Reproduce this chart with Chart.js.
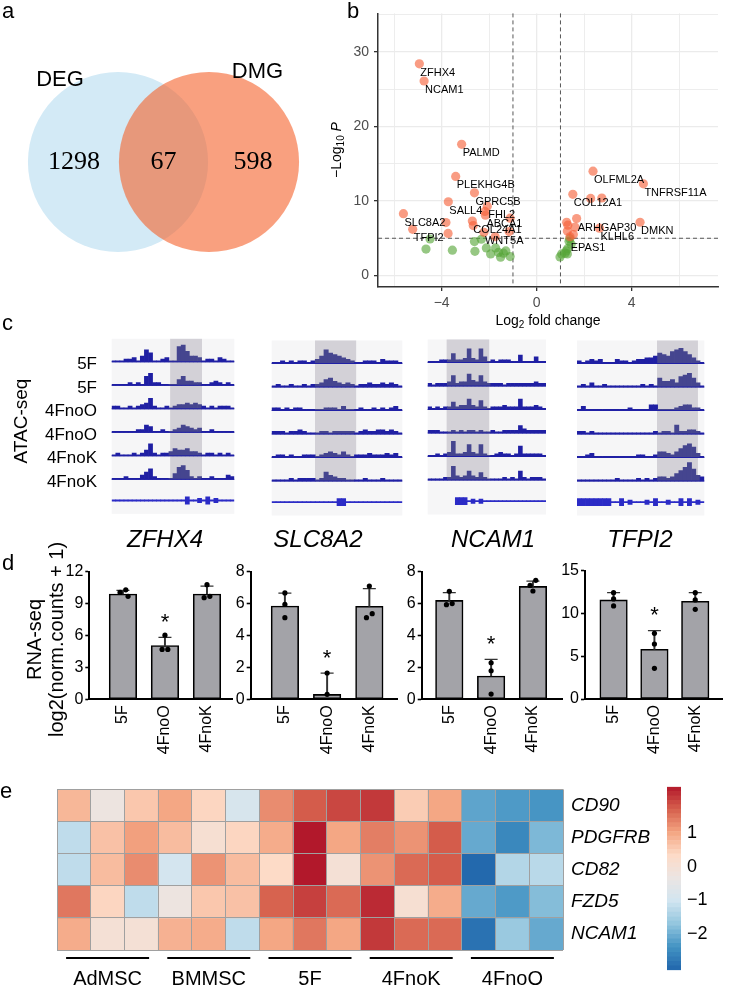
<!DOCTYPE html>
<html>
<head>
<meta charset="utf-8">
<script src="https://cdn.jsdelivr.net/npm/chart.js@4.4.1/dist/chart.umd.min.js"></script>
<style>
  body { margin: 0; background: #fff; width: 730px; height: 987px; position: relative; overflow: hidden; }
  canvas { position: absolute; }
</style>
</head>
<body>
<script>
// ---------- a: Venn ----------
const vennSets = ['DEG', 'DMG'];
const vennCounts = [1298, 67, 598];   // DEG only, shared, DMG only

// ---------- b: volcano ----------
const sigFC = [-4.94, -4.74, -3.16, -3.41, -2.62, -3.72, -2.08, -2.18, -2.16, -5.61, -3.82, -2.71, -2.67, -1.12, -5.22, -3.73, -1.16, -1.75, -2.22,
  2.37, 4.49, 1.52, 2.27, 2.74, 4.35, 1.68, 1.26, 1.31, 1.61, 1.29, 1.54, 2.64, 1.40];
const sigP = [28.4, 26.1, 17.6, 13.3, 11.1, 9.9, 9.3, 8.6, 8.1, 8.3, 7.1, 7.3, 6.7, 7.7, 6.2, 5.65, 5.9, 5.2, 5.8,
  14.0, 12.3, 10.9, 10.35, 10.4, 7.15, 7.65, 7.15, 6.75, 6.5, 5.96, 5.5, 6.35, 5.2];
const sigGene = ['ZFHX4', 'NCAM1', 'PALMD', 'PLEKHG4B', 'GPRC5B', 'SALL4', 'FHL2', '', 'ABCA1', 'SLC8A2', '', 'COL24A1', '', '', 'TFPI2', '', '', '', 'WNT5A',
  'OLFML2A', 'TNFRSF11A', 'COL12A1', '', '', 'DMKN', 'ARHGAP30', '', '', '', '', '', 'KLHL6', ''];
const nsFC = [-4.66, -4.49, -3.55, -2.60, -2.62, -2.33, -2.12, -1.73, -1.61, -1.40, -1.52, -1.12, -1.94, -1.30,
  1.39, 1.36, 1.24, 1.29, 0.98, 1.05, 1.30, 1.45, 1.20];
const nsP = [3.55, 4.9, 3.4, 3.25, 4.56, 4.87, 3.7, 3.7, 3.1, 3.0, 2.46, 2.54, 2.9, 3.3,
  4.95, 4.6, 3.3, 2.9, 2.5, 2.9, 3.6, 4.2, 3.0];
const nsGene = ['', '', '', '', '', '', '', '', '', '', '', '', '', '', 'EPAS1', '', '', '', '', '', '', '', ''];
const fcCut = 1, pCut = 5;

// ---------- c: ATAC-seq tracks (30 bins per locus) ----------
const atacSamples = ['5F', '5F', '4FnoO', '4FnoO', '4FnoK', '4FnoK'];
const atacZFHX4 = [
  [1,1,1,2,2,3,1,4,8,6,1,1,2,3,1,1,10,11,7,4,4,3,1,2,2,1,3,2,1,1],
  [1,1,1,1,2,1,2,1,6,8,2,2,1,1,1,1,4,6,3,3,2,2,1,1,2,3,2,1,2,1],
  [2,2,1,1,2,1,2,3,4,7,2,1,1,2,1,2,3,3,4,3,4,3,2,1,2,1,2,2,2,1],
  [1,1,1,1,1,1,2,2,5,4,1,1,2,1,1,2,3,5,4,3,2,3,1,1,2,1,1,1,1,1],
  [1,2,1,1,1,2,1,2,4,8,2,1,2,2,3,5,4,4,5,3,3,2,1,2,2,1,2,1,2,1],
  [1,1,1,2,1,1,1,3,5,7,2,1,1,1,1,4,8,9,6,2,1,2,1,1,2,1,1,1,3,2]
];
const atacSLC8A2 = [
  [1,1,2,1,2,1,2,2,1,2,3,5,9,7,6,5,4,3,2,1,1,2,2,2,1,3,2,2,2,1],
  [1,2,1,1,2,1,1,2,1,2,2,3,5,6,4,3,2,3,2,1,2,2,3,2,2,3,2,3,2,1],
  [2,2,1,2,1,2,2,1,1,1,1,1,2,2,2,1,3,1,1,1,2,1,1,2,1,2,1,2,3,1],
  [2,2,2,1,2,2,3,2,1,1,1,2,2,1,2,2,2,2,2,1,2,3,2,2,3,3,2,3,2,1],
  [1,2,2,1,2,1,1,2,2,2,1,2,3,4,3,2,4,2,1,2,2,2,3,2,2,2,3,2,3,1],
  [1,1,1,1,2,1,2,2,2,2,1,2,6,4,3,2,2,1,1,1,1,2,1,1,1,2,1,1,1,1]
];
const atacNCAM1 = [
  [1,1,1,2,2,2,6,2,2,3,9,3,2,9,4,1,2,1,2,2,2,1,1,5,1,1,1,4,1,1],
  [2,1,2,2,2,3,7,2,3,3,8,4,3,7,3,2,2,2,2,1,2,2,2,2,2,2,2,3,2,2],
  [2,1,2,1,2,2,5,2,3,3,7,3,2,6,2,1,2,2,2,3,2,2,2,7,2,2,2,3,2,1],
  [2,2,2,1,1,1,2,1,2,1,2,2,1,2,1,1,2,1,1,2,2,2,2,5,3,2,2,2,2,2],
  [1,1,2,1,2,3,10,2,2,3,8,3,2,8,2,1,1,2,3,2,2,1,2,7,2,2,2,2,2,1],
  [1,1,1,1,2,2,9,3,2,3,6,3,2,5,2,1,1,1,1,2,1,2,1,6,2,1,2,2,2,1]
];
const atacTFPI2 = [
  [2,1,2,3,2,3,1,1,1,3,2,2,1,2,3,3,4,4,5,7,6,5,8,9,10,8,6,4,2,1],
  [1,2,1,3,1,1,2,1,1,1,1,1,1,1,1,2,1,2,1,6,4,4,5,3,7,8,9,6,3,1],
  [1,3,1,1,1,1,1,1,1,1,1,1,2,1,1,1,1,4,4,1,1,1,1,2,3,4,4,2,2,1],
  [2,2,1,2,1,1,1,1,1,1,1,1,1,1,1,1,1,1,2,1,2,2,1,6,2,2,3,3,2,1],
  [1,1,2,3,1,1,1,1,1,1,1,1,1,1,2,2,1,1,2,4,4,3,2,4,6,8,9,7,3,1],
  [1,1,1,1,1,1,1,1,1,2,1,1,1,1,2,1,2,1,2,3,3,2,3,5,7,9,12,8,4,3]
];
// gene models per bin: 0 none, 1 intron, 2 UTR, 3 coding exon
const modelZFHX4 = [1,1,1,1,1,1,1,1,1,1,1,1,1,1,1,1,1,1,3,1,1,2,1,3,1,2,1,1,1,1];
const modelSLC8A2 = [1,1,1,1,1,1,1,1,1,1,1,1,1,1,1,3,3,1,1,1,1,1,1,1,1,1,1,1,1,1];
const modelNCAM1 = [0,0,0,0,0,0,0,3,3,3,1,2,1,2,1,1,1,1,1,1,1,1,1,1,1,1,1,1,1,1];
const modelTFPI2 = [3,3,3,3,3,3,3,3,1,1,3,1,2,1,1,1,2,1,3,1,1,2,1,1,3,1,3,1,2,1];
// highlighted regions, in bins
const hlZFHX4 = [14.3, 22.1], hlSLC8A2 = [9.95, 19.4], hlNCAM1 = [4.8, 15.6], hlTFPI2 = [18.85, 28.5];

// ---------- d: RNA-seq ----------
const rnaGroups = ['5F', '4FnoO', '4FnoK'];
const zfhx4Mean = [9.9, 5.05, 9.9], zfhx4Sd = [0.35, 0.78, 0.75];
const zfhx4Reps = [[10.3, 10.05, 9.68], [6.03, 4.69, 4.69], [10.78, 9.56, 9.68]];
const slc8a2Mean = [5.85, 0.31, 5.83], slc8a2Sd = [0.81, 1.33, 1.11];
const slc8a2Reps = [[6.67, 5.95, 5.12], [1.65, 0.31], [7.1, 5.37, 5.12]];
const ncam1Mean = [6.2, 1.46, 7.08], ncam1Sd = [0.49, 1.04, 0.33];
const ncam1Reps = [[6.77, 5.93, 6.0], [2.29, 1.79, 0.33], [7.46, 7.14, 6.79]];
const tfpi2Mean = [11.58, 5.81, 11.42], tfpi2Sd = [0.85, 2.18, 1.01];
const tfpi2Reps = [[12.43, 11.7, 10.88], [7.68, 6.43, 3.59], [12.43, 11.58, 10.49]];
const sigGroups = [1];

// ---------- e: heatmap ----------
const heatGroups = ['AdMSC', 'BMMSC', '5F', '4FnoK', '4FnoO'];
const heatCols = ['AdMSC-1', 'AdMSC-2', 'AdMSC-3', 'BMMSC-1', 'BMMSC-2', 'BMMSC-3', '5F-1', '5F-2', '5F-3',
  '4FnoK-1', '4FnoK-2', '4FnoK-3', '4FnoO-1', '4FnoO-2', '4FnoO-3'];
const heatGenes = ['CD90', 'PDGFRB', 'CD82', 'FZD5', 'NCAM1'];
const cd90 = [0.5, -0.3, 0.35, 0.65, 0.2, -0.75, 0.85, 1.2, 1.35, 1.45, 0.3, 0.65, -1.7, -1.8, -1.85];
const pdgfrb = [-1.0, 0.4, 0.7, 0.45, -0.05, 0.2, 0.6, 1.68, 0.65, 0.95, 0.8, 1.2, -1.65, -2.0, -1.5];
const cd82 = [-1.0, 0.45, 0.85, -0.8, 0.8, 0.45, 0.15, 1.68, -0.1, 0.8, 1.1, 1.2, -2.35, -1.1, -1.05];
const fzd5 = [1.0, 0.2, -1.0, -0.3, 0.35, 0.4, 1.15, 1.4, 1.1, 1.55, -0.05, 0.6, -1.65, -1.8, -1.45];
const ncam1Heat = [0.6, -0.1, -0.1, 0.55, 0.6, -1.0, 0.65, 1.0, 0.65, 1.45, 1.1, 1.1, -2.25, -1.3, -1.65];
const heatMin = -2.38, heatMax = 1.68;
const heatPalette = ['#2166ac', '#4393c3', '#92c5de', '#d1e5f0', '#ebe5e3', '#fddbc7', '#f4a582', '#d6604d', '#b2182b'];

// ================= helpers =================
const SANS = "'Liberation Sans', Arial, sans-serif";
const SERIF = "'Liberation Serif', 'Times New Roman', serif";
Chart.defaults.font.family = SANS;
Chart.defaults.color = '#000';

const base = {
  responsive: false, animation: false, devicePixelRatio: 1, events: [],
  plugins: { legend: { display: false }, tooltip: { enabled: false } }
};

function makeCanvas(left, top, w, h) {
  const c = document.createElement('canvas');
  c.width = w; c.height = h;
  Object.assign(c.style, { left: left + 'px', top: top + 'px', width: w + 'px', height: h + 'px' });
  document.body.appendChild(c);
  return c;
}

function put(ctx, s, x, y, size, o = {}) {
  ctx.save();
  ctx.font = (o.style || '') + ' ' + size + 'px ' + (o.family || SANS);
  ctx.fillStyle = o.color || '#000';
  ctx.textAlign = o.align || 'left';
  ctx.textBaseline = o.base || 'alphabetic';
  ctx.translate(x, y);
  if (o.rot) ctx.rotate(o.rot);
  ctx.fillText(s, 0, 0);
  ctx.restore();
}

function putRuns(ctx, runs, x, y, rot) {
  ctx.save();
  ctx.translate(x, y);
  if (rot) ctx.rotate(rot);
  ctx.textBaseline = 'middle';
  ctx.fillStyle = '#000';
  const fonts = runs.map(r => (r.italic ? 'italic ' : '') + r.size + 'px ' + SANS);
  let w = 0;
  runs.forEach((r, i) => { ctx.font = fonts[i]; w += ctx.measureText(r.t).width; });
  let cx = -w / 2;
  runs.forEach((r, i) => {
    ctx.font = fonts[i];
    ctx.fillText(r.t, cx, r.dy || 0);
    cx += ctx.measureText(r.t).width;
  });
  ctx.restore();
}

const fmt = v => (v < 0 ? '\u2212' + Math.abs(v) : String(v));

const palRGB = heatPalette.map(h => [1, 3, 5].map(i => parseInt(h.slice(i, i + 2), 16)));
function heatColor(v) {
  let t = (v - heatMin) / (heatMax - heatMin);
  t = Math.max(0, Math.min(1, t));
  const pos = t * (palRGB.length - 1);
  const i = Math.min(Math.floor(pos), palRGB.length - 2);
  const f = pos - i;
  const c = palRGB[i].map((a, j) => Math.round(a + (palRGB[i + 1][j] - a) * f));
  return 'rgb(' + c.join(',') + ')';
}

// ================= a: Venn =================
{
  const cv = makeCanvas(0, 0, 330, 300);
  const vx = [-1.797, 1.83], vy = [-1.516, 1.78];
  const vennR = 0.99;                       // radius in units of the centre distance
  const rPx = vennR * 330 / (vx[1] - vx[0]);
  const labelPos = [[-1.137, 0.9], [1.033, 0.99]];
  const countPos = [[-0.984, 0], [0, 0], [0.984, 0]];
  new Chart(cv, {
    type: 'bubble',
    data: { datasets: [
      { label: vennSets[0], data: [{ x: -0.5, y: 0 }], radius: rPx, backgroundColor: '#d3eaf6', borderWidth: 0, order: 2, clip: false },
      { label: vennSets[1], data: [{ x: 0.5, y: 0 }], radius: rPx, backgroundColor: 'rgba(245,97,42,0.6)', borderWidth: 0, order: 1, clip: false }
    ] },
    options: { ...base, layout: { padding: 0, autoPadding: false },
      scales: { x: { display: false, min: vx[0], max: vx[1] }, y: { display: false, min: vy[0], max: vy[1] } } },
    plugins: [{
      id: 'vennText',
      afterDatasetsDraw(c) {
        const { ctx, scales: { x, y } } = c;
        vennSets.forEach((s, i) => put(ctx, s, x.getPixelForValue(labelPos[i][0]), y.getPixelForValue(labelPos[i][1]), 22, { align: 'center', base: 'middle' }));
        vennCounts.forEach((n, i) => put(ctx, String(n), x.getPixelForValue(countPos[i][0]), y.getPixelForValue(countPos[i][1]), 26, { align: 'center', base: 'middle', family: SERIF }));
        put(ctx, 'a', 2, 18, 22);
      }
    }]
  });
}

// ================= b: volcano =================
{
  const cv = makeCanvas(330, 0, 400, 330);
  new Chart(cv, {
    type: 'scatter',
    data: { datasets: [
      { data: nsFC.map((x, i) => ({ x, y: nsP[i] })), backgroundColor: 'rgba(85,165,55,0.62)', pointRadius: 4.6, borderWidth: 0, order: 2 },
      { data: sigFC.map((x, i) => ({ x, y: sigP[i] })), backgroundColor: 'rgba(245,95,55,0.62)', pointRadius: 4.6, borderWidth: 0, order: 1 }
    ] },
    options: { ...base,
      layout: { padding: { top: 8, right: 12, left: 0, bottom: 0 } },
      scales: {
        x: {
          type: 'linear', min: -6.68, max: 7.63,
          afterFit: s => { s.height = 43; },
          ticks: { stepSize: 2, includeBounds: false, autoSkip: false, maxRotation: 0, color: '#4d4d4d', font: { size: 14 }, padding: 4,
            callback: v => (v % 4 === 0 ? fmt(v) : '') },
          grid: { color: '#ebebeb', lineWidth: c => (c.tick && c.tick.value % 4 === 0 ? 1.3 : 0.9), tickLength: 4,
            tickColor: c => (c.tick && c.tick.value % 4 === 0 ? '#333' : 'rgba(0,0,0,0)') },
          border: { color: '#333', width: 1.5 }
        },
        y: {
          type: 'linear', min: -1.54, max: 35.17,
          afterFit: s => { s.width = 48; },
          ticks: { stepSize: 5, includeBounds: false, color: '#4d4d4d', font: { size: 14 }, padding: 5,
            callback: v => (v % 10 === 0 ? fmt(v) : '') },
          grid: { color: '#ebebeb', lineWidth: c => (c.tick && c.tick.value % 10 === 0 ? 1.3 : 0.9), tickLength: 4,
            tickColor: c => (c.tick && c.tick.value % 10 === 0 ? '#333' : 'rgba(0,0,0,0)') },
          border: { color: '#333', width: 1.5 }
        }
      } },
    plugins: [{
      id: 'volcano',
      beforeDatasetsDraw(c) {
        const { ctx, chartArea: a, scales: { x, y } } = c;
        ctx.save();
        ctx.strokeStyle = '#444'; ctx.lineWidth = 0.9; ctx.setLineDash([4, 3]);
        [-fcCut, fcCut].forEach(v => {
          const px = x.getPixelForValue(v);
          ctx.beginPath(); ctx.moveTo(px, a.top); ctx.lineTo(px, a.bottom); ctx.stroke();
        });
        const py = y.getPixelForValue(pCut);
        ctx.beginPath(); ctx.moveTo(a.left, py); ctx.lineTo(a.right, py); ctx.stroke();
        ctx.restore();
      },
      afterDatasetsDraw(c) {
        const { ctx, chartArea: a, scales: { x, y } } = c;
        const label = (fc, p, g) => g.forEach((name, i) => {
          if (name) put(ctx, name, x.getPixelForValue(fc[i]) + 1, y.getPixelForValue(p[i]) + 9, 11, { base: 'middle' });
        });
        label(sigFC, sigP, sigGene);
        label(nsFC, nsP, nsGene);
        putRuns(ctx, [{ t: '\u2212Log', size: 14 }, { t: '10', size: 10, dy: 4 }, { t: ' P', size: 14, italic: true }], a.left - 41, 150, -Math.PI / 2);
        putRuns(ctx, [{ t: 'Log', size: 14 }, { t: '2', size: 10, dy: 4 }, { t: ' fold change', size: 14 }], (a.left + a.right) / 2, a.bottom + 34);
        put(ctx, 'b', 17, 18, 22);
      }
    }]
  });
}

// ================= c: ATAC tracks =================
const trackH = 23.5, modelH = 34, trackMax = 15;
const modelHalf = [0, 0.045, 0.16, 0.27];
const atacPanels = [
  { gene: 'ZFHX4', tracks: atacZFHX4, model: modelZFHX4, hl: hlZFHX4 },
  { gene: 'SLC8A2', tracks: atacSLC8A2, model: modelSLC8A2, hl: hlSLC8A2 },
  { gene: 'NCAM1', tracks: atacNCAM1, model: modelNCAM1, hl: hlNCAM1 },
  { gene: 'TFPI2', tracks: atacTFPI2, model: modelTFPI2, hl: hlTFPI2 }
];
// canvas left, width, pad left, pad right, pad top, gene name x
const atacBoxes = [[0, 240, 111.7, 5.7, 28.8, 165], [260, 150, 11.7, 7.7, 30.5, 58], [415, 140, 12.7, 9, 29.5, 78], [565, 150, 12, 10.7, 30.5, 75]];

atacPanels.forEach((p, pi) => {
  const [left, width, padL, padR, padT, nameX] = atacBoxes[pi];
  const cv = makeCanvas(left, 310, width, 250);
  const n = p.tracks[0].length;
  const inHl = i => i + 0.5 >= p.hl[0] && i + 0.5 <= p.hl[1];
  const scales = { x: { type: 'category', display: false } };
  p.tracks.forEach((t, k) => {
    scales['t' + k] = { type: 'linear', display: false, position: 'right', stack: 'atac', stackWeight: trackH, weight: k, min: 0, max: trackMax };
  });
  scales.gm = { type: 'linear', display: false, position: 'right', stack: 'atac', stackWeight: modelH, weight: 6, min: -1, max: 1.55 };
  const datasets = p.tracks.map((t, k) => ({
    data: t, yAxisID: 't' + k, backgroundColor: t.map((_, i) => (inHl(i) ? '#45458f' : '#1f1fa3')),
    barPercentage: 1, categoryPercentage: 1, grouped: false, borderWidth: 0
  }));
  datasets.push({
    data: p.model.map(m => (m ? [-modelHalf[m], modelHalf[m]] : null)), yAxisID: 'gm', backgroundColor: '#2b2bc6',
    barPercentage: 1, categoryPercentage: 1, grouped: false, borderWidth: 0
  });
  new Chart(cv, {
    type: 'bar',
    data: { labels: p.tracks[0].map((_, i) => i), datasets },
    options: { ...base, layout: { padding: { left: padL, right: padR, top: padT, bottom: 250 - padT - (6 * trackH + modelH) } }, scales },
    plugins: [{
      id: 'atac',
      beforeDatasetsDraw(c) {
        const { ctx, chartArea: a, scales: s } = c;
        const bw = (s.x.right - s.x.left) / n;
        const edge = v => s.x.left + v * bw;
        ctx.save();
        ctx.fillStyle = '#f6f6f7';
        ctx.fillRect(a.left, a.top, a.width, a.height);
        ctx.fillStyle = '#d3d1d7';
        ctx.fillRect(edge(p.hl[0]), a.top, edge(p.hl[1]) - edge(p.hl[0]), s.t5.bottom - a.top);
        ctx.restore();
      },
      afterDatasetsDraw(c) {
        const { ctx, chartArea: a, scales: s } = c;
        ctx.save();
        ctx.fillStyle = '#2020a6';
        p.tracks.forEach((_, k) => {
          const y = s['t' + k].getPixelForValue(0);
          ctx.fillRect(a.left, y - 1, a.width, 1);
        });
        ctx.restore();
        put(ctx, p.gene, nameX, 237, 24, { style: 'italic', align: 'center' });
        if (pi === 0) {
          atacSamples.forEach((name, k) => put(ctx, name, 97, s['t' + k].getPixelForValue(0) + 2.5, 17, { align: 'right', base: 'middle' }));
          put(ctx, 'ATAC-seq', 22, 111, 19, { align: 'center', base: 'middle', rot: -Math.PI / 2 });
          put(ctx, 'c', 2, 20, 22);
        }
      }
    }]
  });
});

// ================= d: RNA-seq bars =================
const rnaPanels = [
  { mean: zfhx4Mean, sd: zfhx4Sd, reps: zfhx4Reps, yMax: 12, step: 3 },
  { mean: slc8a2Mean, sd: slc8a2Sd, reps: slc8a2Reps, yMax: 8, step: 2 },
  { mean: ncam1Mean, sd: ncam1Sd, reps: ncam1Reps, yMax: 8, step: 2 },
  { mean: tfpi2Mean, sd: tfpi2Sd, reps: tfpi2Reps, yMax: 15, step: 5 }
];
// canvas left, width, y-axis width, right pad, top pad, x-axis height, x min, x max
const rnaBoxes = [
  [0, 240, 89.3, 6.7, 41.7, 80.7, -0.8, 2.6],
  [210, 195, 40.7, 7, 41.7, 80.7, -0.81, 2.66],
  [380, 190, 41.7, 5, 41.7, 80.7, -0.66, 2.70],
  [540, 190, 45, 1.7, 40.7, 81, -0.7, 2.66]
];

// side-by-side offsets (in bar units) for replicate dots that would overlap
function spread(reps, ppu) {
  const d = 5.2, unit = 42.5;
  const order = reps.map((_, i) => i).sort((a, b) => reps[b] - reps[a]);
  const placed = [];
  const off = reps.map(() => 0);
  order.forEach(i => {
    const v = reps[i];
    const hits = placed.filter(q => Math.abs(q.v - v) * ppu < d);
    let o = 0;
    if (hits.length === 1 && hits[0].o === 0) { hits[0].o = d / 2 + 0.3; o = -(d / 2 + 0.3); }
    else if (hits.length) {
      o = [d, -d, 2 * d, -2 * d].find(c => hits.every(q => Math.abs(q.o - c) >= d)) || 0;
    }
    placed.push({ i, v, o });
  });
  placed.forEach(q => { off[q.i] = q.o / unit; });
  return off;
}

rnaPanels.forEach((p, pi) => {
  const [left, width, axW, padR, padT, xH, xMin, xMax] = rnaBoxes[pi];
  const cv = makeCanvas(left, 530, width, 250);
  const ppu = 127.6 / p.yMax;
  const dots = [];
  p.reps.forEach((r, g) => {
    const off = spread(r, ppu);
    r.forEach((v, j) => dots.push({ x: g + off[j], y: v }));
  });
  new Chart(cv, {
    type: 'bar',
    data: { datasets: [
      { type: 'bar', data: p.mean.map((m, i) => ({ x: i, y: m })), backgroundColor: '#a3a3a8', borderColor: '#000', borderWidth: 1.6,
        borderSkipped: false, barThickness: 27.5, grouped: false, order: 3 },
      { type: 'bar', data: p.mean.map((m, i) => ({ x: i, y: [m, m + p.sd[i]] })), backgroundColor: '#333',
        barThickness: 1.3, grouped: false, order: 2 },
      { type: 'scatter', data: p.mean.map((m, i) => ({ x: i, y: m + p.sd[i] })), pointStyle: 'line', pointRadius: 6.5,
        borderColor: '#333', borderWidth: 1.3, order: 1 },
      { type: 'scatter', data: dots, pointRadius: 2.6, backgroundColor: '#000', borderWidth: 0, order: 0 }
    ] },
    options: { ...base,
      layout: { padding: { left: 0, right: padR, top: padT, bottom: 0 } },
      scales: {
        x: { type: 'linear', min: xMin, max: xMax, offset: false,
          afterFit: s => { s.height = xH; },
          ticks: { stepSize: 1, includeBounds: false, autoSkip: false, minRotation: 90, maxRotation: 90, font: { size: 16 }, padding: 6,
            callback: v => (Number.isInteger(v) && rnaGroups[v] ? rnaGroups[v] : '') },
          grid: { display: true, drawOnChartArea: false, drawTicks: false },
          border: { color: '#000', width: 2 } },
        y: { type: 'linear', min: 0, max: p.yMax,
          afterFit: s => { s.width = axW; },
          ticks: { stepSize: p.step, font: { size: 16 }, padding: 2 },
          grid: { drawOnChartArea: false, tickLength: 4, tickColor: '#000', tickWidth: 1.6 },
          border: { color: '#000', width: 2 } }
      } },
    plugins: [{
      id: 'rna',
      afterDatasetsDraw(c) {
        const { ctx, chartArea: a, scales: { x, y } } = c;
        sigGroups.forEach(g => {
          const cy = y.getPixelForValue(p.mean[g] + p.sd[g]) - 21;
          put(ctx, '*', x.getPixelForValue(g), cy + 12.6, 22, { align: 'center' });
        });
        if (pi === 0) {
          const cy = (a.top + a.bottom) / 2 + 4;
          put(ctx, 'RNA-seq', a.left - 54.3, cy, 20, { align: 'center', base: 'middle', rot: -Math.PI / 2 });
          put(ctx, 'log2(norm.counts + 1)', a.left - 32.3, cy, 20, { align: 'center', base: 'middle', rot: -Math.PI / 2 });
          put(ctx, 'd', 2, 40, 22);
        }
      }
    }]
  });
});

// ================= e: heatmap =================
{
  const heatRows = [cd90, pdgfrb, cd82, fzd5, ncam1Heat];
  const cv = makeCanvas(0, 770, 730, 217);
  new Chart(cv, {
    type: 'bar',
    data: { labels: heatCols, datasets: heatRows.map((row, r) => ({
      label: heatGenes[r], data: row.map(() => [r, r + 1]), backgroundColor: row.map(heatColor),
      grouped: false, barPercentage: 1, categoryPercentage: 1, borderWidth: 0
    })) },
    options: { ...base,
      layout: { padding: { left: 57, top: 10, right: 0, bottom: 0 } },
      scales: {
        x: { type: 'category', position: 'bottom', weight: 0, afterFit: s => { s.height = 0; },
          ticks: { display: false }, grid: { offset: true, color: '#a0a0a0', lineWidth: 1, z: 1, drawTicks: false }, border: { display: false } },
        g: { type: 'category', labels: heatGroups, position: 'bottom', weight: 1, offset: true, afterFit: s => { s.height = 37; },
          ticks: { font: { size: 20 }, padding: 17 }, grid: { display: false, drawTicks: false }, border: { display: false } },
        y: { type: 'linear', min: 0, max: 5, reverse: true, position: 'right', weight: 0, afterFit: s => { s.width = 0; },
          ticks: { display: false, stepSize: 1 }, grid: { color: '#a0a0a0', lineWidth: 1, z: 1, drawTicks: false }, border: { display: false } },
        yl: { type: 'linear', min: 0, max: 5, reverse: true, position: 'right', weight: 1, afterFit: s => { s.width = 167; },
          afterBuildTicks: s => { s.ticks = heatGenes.map((_, i) => ({ value: i + 0.5 })); },
          ticks: { font: { size: 19, style: 'italic' }, padding: 8, callback: (v, i) => heatGenes[i] },
          grid: { display: false, drawTicks: false }, border: { display: false } }
      } },
    plugins: [{
      id: 'heatGroups',
      afterDraw(c) {
        const { ctx, scales: { g } } = c;
        ctx.save();
        ctx.fillStyle = '#000';
        heatGroups.forEach((_, i) => {
          const cx = g.getPixelForValue(i);
          ctx.fillRect(cx - 41.5, 187, 83, 2);
        });
        ctx.restore();
        put(ctx, 'e', 0, 28, 22);
      }
    }]
  });

  // colour key
  const cb = makeCanvas(660, 770, 70, 217);
  const cbN = 41;
  const cbSteps = Array.from({ length: cbN }, (_, i) => heatMax - (i + 0.5) * (heatMax - heatMin) / cbN);
  new Chart(cb, {
    type: 'bar',
    data: { labels: cbSteps.map(v => v.toFixed(3)), datasets: [{
      data: cbSteps.map(() => [0, 1]), backgroundColor: cbSteps.map(heatColor),
      barPercentage: 1, categoryPercentage: 1, borderWidth: 0
    }] },
    options: { ...base, indexAxis: 'y',
      layout: { padding: { left: 7, top: 7, bottom: 7, right: 0 } },
      scales: {
        y: { type: 'category', display: false },
        x: { type: 'linear', min: 0, max: 1, display: false },
        v: { type: 'linear', position: 'right', min: heatMin, max: heatMax, afterFit: s => { s.width = 49; },
          ticks: { stepSize: 1, includeBounds: false, font: { size: 18 }, padding: 6, callback: v => fmt(v) },
          grid: { display: false, drawTicks: false }, border: { display: false } }
      } }
  });
}
</script>
</body>
</html>
